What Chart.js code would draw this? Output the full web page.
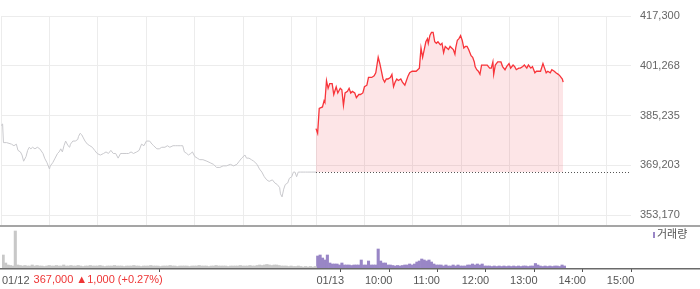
<!DOCTYPE html>
<html>
<head>
<meta charset="utf-8">
<script src="https://cdn.jsdelivr.net/npm/chart.js@4/dist/chart.umd.min.js"></script>
<style>
  body { margin: 0; background: #fff; }
  #wrap { position: relative; width: 700px; height: 289px; }
  #price { position: absolute; left: 0; top: 0; }
  #volume { position: absolute; left: 0; top: 225px; }
</style>
</head>
<body>
<div id="wrap">
  <canvas id="price" width="700" height="225"></canvas>
  <canvas id="volume" width="700" height="64"></canvas>
</div>
<script>
// minutes since 09:00 of each session; 01/12 session is 390 minutes long
const sessionLength = 390;
const totalMinutes = 780;

const prevDate = "01/12";
const prevDayClose = 367000;
const prevDayChange = 1000;

// 01/12 price line
const prevTimes = [0, 2, 3, 7, 13, 16, 19, 21, 24, 26, 28, 31, 33, 35, 37, 39, 42, 45, 48, 52,
  54, 57, 60, 61, 64, 67, 70, 72, 74, 76, 78, 80, 83, 85, 86, 89, 92, 95, 96, 98,
  100, 102, 104, 107, 110, 113, 116, 119, 123, 127, 130, 133, 136, 139, 142, 145, 148, 151, 155, 158,
  161, 164, 168, 171, 174, 177, 180, 184, 187, 189, 193, 196, 199, 203, 206, 209, 213, 216, 219, 222,
  225, 227, 230, 232, 235, 237, 240, 243, 246, 250, 255, 259, 263, 267, 271, 275, 279, 284, 288, 292,
  295, 298, 302, 304, 307, 310, 313, 317, 320, 323, 326, 329, 332, 336, 339, 342, 345, 346, 348, 350,
  352, 355, 357, 360, 362, 364, 366, 368, 371, 374, 377, 380, 384, 390];
const prevPrices = [382000, 382500, 376500, 376500, 376000, 375500, 376000, 374000, 373500, 372500,
  370500, 372000, 374000, 375000, 374500, 375000, 374500, 375000, 374500, 373000,
  371500, 370000, 368000, 369000, 370000, 371500, 373000, 373500, 374500, 373500,
  375500, 377000, 375500, 375000, 376000, 377000, 377000, 377500, 378500, 379500,
  379000, 378000, 377000, 376000, 375500, 375000, 374000, 373000, 372500, 373000,
  373500, 373000, 374000, 373000, 373000, 371500, 373000, 373000, 373000, 373000,
  373500, 373000, 373500, 374000, 376000, 375500, 377000, 377000, 376000, 375500,
  374500, 374500, 375000, 375000, 375500, 375000, 375500, 375500, 375500, 375500,
  375500, 373500, 373000, 372500, 373000, 373500, 372000, 371500, 371000, 371000,
  370500, 370000, 369500, 368500, 368500, 369000, 369000, 369500, 369000, 369500,
  370500, 371500, 372500, 371500, 371500, 371000, 370500, 369500, 368000, 367000,
  365500, 364500, 364000, 364500, 363500, 363000, 362000, 360000, 359000, 361500,
  363000, 363500, 365000, 365500, 367000, 367000, 365500, 367000, 367000, 367000,
  367000, 367000, 367000, 367000];

// 01/13 price line
const todayTimes = [0, 2, 4, 8, 10, 11, 13, 15, 17, 20, 22, 25, 27, 30, 32, 34, 36, 39, 41, 43,
  45, 48, 50, 53, 55, 58, 60, 63, 65, 67, 69, 72, 74, 77, 79, 81, 83, 85, 87, 89,
  92, 94, 96, 98, 100, 102, 105, 107, 110, 112, 114, 116, 119, 121, 124, 126, 128, 130, 132, 134,
  136, 138, 139, 141, 143, 145, 147, 149, 151, 154, 156, 158, 160, 162, 164, 166, 168, 170, 172, 173,
  175, 177, 179, 181, 183, 185, 187, 189, 192, 194, 196, 197, 199, 201, 203, 205, 207, 210, 212, 215,
  217, 219, 220, 222, 225, 227, 229, 231, 234, 236, 239, 241, 244, 246, 248, 251, 253, 256, 258, 261,
  263, 266, 268, 271, 273, 276, 278, 281, 283, 285, 287, 290, 292, 295, 297, 300, 302, 305, 306];
const todayPrices = [381000, 379500, 387500, 388000, 390000, 389500, 396500, 394000, 395500, 395500,
  392000, 394500, 392500, 394000, 393500, 388500, 392500, 393000, 394000, 392500,
  393000, 392500, 391000, 392000, 392000, 392500, 394500, 395000, 397500, 397500,
  397500, 398000, 399000, 404000, 402000, 399500, 397000, 396000, 397000, 397000,
  397500, 398500, 394500, 396000, 397000, 396500, 397000, 396000, 395000, 396500,
  398000, 399000, 399500, 399500, 399500, 400000, 400500, 407000, 404000, 406500,
  409000, 410000, 408500, 411000, 412000, 412000, 409000, 408500, 409000, 408000,
  408500, 405500, 407500, 407000, 406500, 407500, 407000, 406500, 405000, 407000,
  409500, 410000, 411000, 409500, 407000, 407500, 407500, 406500, 404500, 404000,
  402500, 401000, 400000, 399500, 398500, 401500, 401500, 401500, 401500, 400500,
  400500, 402500, 398500, 401500, 402500, 402500, 402500, 401000, 400000, 401000,
  402000, 400500, 401500, 401000, 400000, 400500, 400500, 401000, 401500, 400500,
  401500, 400500, 401000, 399000, 399500, 399500, 399500, 402000, 400500, 399000,
  399500, 399000, 400000, 399500, 399000, 398500, 398000, 397000, 396000];

// volume in 3-minute buckets
const bucketMinutes = 3;
const prevVolume = [13000, 5000, 3000, 2500, 2000, 37000, 3000, 2500, 2000, 2500,
  2000, 2000, 3000, 2000, 2500, 2000, 2000, 1500, 2000, 2500,
  2000, 2000, 2500, 2000, 2000, 3000, 2000, 2000, 2500, 2000,
  2000, 2500, 2000, 1500, 2000, 2000, 2500, 2000, 2000, 2000,
  2500, 2000, 1500, 2000, 2000, 2000, 2500, 2000, 2000, 2000,
  1500, 2000, 2000, 2000, 2500, 2000, 2000, 1500, 2000, 2000,
  2000, 2500, 2000, 2000, 2000, 1500, 2000, 2000, 2000, 2500,
  2000, 2000, 1500, 2000, 2000, 2000, 2000, 1500, 2000, 2000,
  2000, 2500, 2000, 2000, 2000, 1500, 2000, 2000, 2500, 2000,
  2000, 2000, 2000, 1500, 2000, 2000, 2000, 2000, 2500, 2000,
  2000, 2000, 2500, 2000, 2000, 2500, 3000, 2500, 3000, 3500,
  3000, 2500, 3000, 3000, 2500, 2000, 2000, 2000, 1500, 2000,
  1500, 1500, 2000, 1500, 1000, 1500, 1000, 1500, 1000, 1500];
const todayVolume = [12000, 13000, 10000, 8000, 13000, 5000, 4000, 4000, 4000, 3000,
  5000, 3000, 3000, 3000, 2500, 3000, 3000, 3000, 8000, 3000,
  3000, 7000, 3000, 3000, 3000, 19000, 7000, 5000, 5000, 3000,
  3000, 2500, 2000, 2500, 2000, 2500, 3000, 3000, 4000, 3000,
  4000, 6000, 7000, 9000, 8000, 7000, 8000, 6000, 4000, 3000,
  3000, 3000, 2000, 3000, 2000, 2000, 3000, 2000, 3000, 2000,
  2000, 2000, 3000, 3000, 4000, 3000, 4000, 3000, 4000, 2000,
  2000, 2000, 1500, 2000, 1500, 2000, 1500, 2000, 1500, 2000,
  1500, 2000, 1500, 2000, 1500, 2000, 2000, 1500, 2000, 2000,
  4500, 3000, 2000, 1500, 2000, 1500, 2000, 1500, 2000, 2000,
  1500, 3000, 2000];

const yTickValues = [353170, 369203, 385235, 401268, 417300];
const gridMinutes = [0, 60, 120, 180, 240, 300, 360, 390, 450, 510, 570, 630, 690, 750];
const xTickValues = [0, 390, 450, 510, 570, 630, 690, 750];
const xTickLabels = ["01/12", "01/13", "10:00", "11:00", "12:00", "13:00", "14:00", "15:00"];

const FONT = '"Liberation Sans", Arial, "Noto Sans CJK KR", sans-serif';
Chart.defaults.font.family = FONT;
Chart.defaults.font.size = 11;

const RED = "rgb(248, 52, 58)";
const PURPLE = "#9986c6";

// dotted line at previous close, from the start of 01/13 to the right edge
const prevCloseLine = {
  id: "prevCloseLine",
  afterDatasetsDraw(chart) {
    const { ctx, chartArea, scales } = chart;
    const y = Math.round(scales.y.getPixelForValue(prevDayClose)) + 0.5;
    ctx.save();
    ctx.strokeStyle = "#555";
    ctx.lineWidth = 1;
    ctx.setLineDash([1, 2]);
    ctx.beginPath();
    ctx.moveTo(scales.x.getPixelForValue(sessionLength), y);
    ctx.lineTo(chartArea.right, y);
    ctx.stroke();
    ctx.restore();
  },
};

new Chart(document.getElementById("price"), {
  type: "line",
  data: {
    datasets: [
      {
        data: prevTimes.map((t, i) => ({ x: t, y: prevPrices[i] })),
        borderColor: "#c9c9cd",
        borderWidth: 1,
        fill: false,
      },
      {
        data: todayTimes.map((t, i) => ({ x: sessionLength + t, y: todayPrices[i] })),
        borderColor: RED,
        borderWidth: 1.3,
        backgroundColor: "rgba(240, 40, 60, 0.12)",
        fill: { value: prevDayClose },
      },
    ],
  },
  options: {
    responsive: false,
    animation: false,
    devicePixelRatio: 1,
    layout: { padding: { left: 1, top: 16, right: 0, bottom: 0 } },
    elements: { point: { radius: 0 }, line: { tension: 0 } },
    plugins: { legend: { display: false }, tooltip: { enabled: false } },
    scales: {
      x: {
        type: "linear",
        min: 0,
        max: totalMinutes,
        afterBuildTicks: (s) => { s.ticks = gridMinutes.map((v) => ({ value: v })); },
        ticks: { display: false },
        grid: { color: "#ececec", drawTicks: false },
        border: { display: false },
        afterFit: (s) => { s.height = 0; s.paddingLeft = 0; s.paddingRight = 0; },
      },
      y: {
        position: "right",
        min: 349950,
        max: 417300,
        afterBuildTicks: (s) => { s.ticks = yTickValues.map((v) => ({ value: v })); },
        ticks: { color: "#666", padding: 9, callback: (v) => v.toLocaleString("en-US") },
        grid: { color: "#ececec", drawTicks: false },
        border: { display: false },
        afterFit: (s) => { s.width = 69; s.paddingTop = 0; s.paddingBottom = 0; },
      },
    },
  },
  plugins: [prevCloseLine],
});

// separator, baseline, legend and the 01/12 close text
const volumeDecor = {
  id: "volumeDecor",
  afterDraw(chart) {
    const { ctx, chartArea, width } = chart;
    ctx.save();
    ctx.fillStyle = "#a5a5a5";
    ctx.fillRect(0, 0, width, 2);
    ctx.fillStyle = "#6a6a6a";
    ctx.fillRect(0, chartArea.bottom, width, 1.5);

    ctx.font = "11px " + FONT;
    ctx.textBaseline = "middle";
    ctx.fillStyle = PURPLE;
    ctx.fillRect(width - 47, 7, 2, 6);
    ctx.fillStyle = "#555";
    ctx.fillText("거래량", width - 43, 10);

    const pct = (prevDayChange / (prevDayClose - prevDayChange) * 100).toFixed(2);
    const text = prevDayClose.toLocaleString("en-US") + " \u25B2" +
      prevDayChange.toLocaleString("en-US") + " (+" + pct + "%)";
    const x0 = chart.scales.x.getPixelForValue(0) + ctx.measureText(prevDate).width + 4;
    ctx.textBaseline = "top";
    ctx.fillStyle = "#ee3535";
    ctx.fillText(text, x0, chartArea.bottom + 6);
    ctx.restore();
  },
};

new Chart(document.getElementById("volume"), {
  type: "bar",
  data: {
    datasets: [
      {
        data: prevVolume.map((v, i) => ({ x: i * bucketMinutes + bucketMinutes / 2, y: v })),
        backgroundColor: "#c8c8c8",
      },
      {
        data: todayVolume.map((v, i) => ({ x: sessionLength + i * bucketMinutes + bucketMinutes / 2, y: v })),
        backgroundColor: PURPLE,
      },
    ],
  },
  options: {
    responsive: false,
    animation: false,
    devicePixelRatio: 1,
    layout: { padding: { left: 1, top: 1, right: 69, bottom: 0 } },
    datasets: { bar: { grouped: false, barPercentage: 1, categoryPercentage: 1 } },
    plugins: { legend: { display: false }, tooltip: { enabled: false } },
    scales: {
      x: {
        type: "linear",
        min: 0,
        max: totalMinutes,
        offset: false,
        afterBuildTicks: (s) => { s.ticks = xTickValues.map((v) => ({ value: v })); },
        ticks: {
          color: "#555",
          padding: 2,
          align: "start",
          maxRotation: 0,
          autoSkip: false,
          callback: (v) => xTickLabels[xTickValues.indexOf(v)],
        },
        grid: { drawOnChartArea: false, drawTicks: true, tickLength: 4, color: "#555" },
        border: { display: false },
        afterFit: (s) => { s.height = 21; },
      },
      y: { display: false, min: 0, max: 42000 },
    },
  },
  plugins: [volumeDecor],
});
</script>
</body>
</html>
